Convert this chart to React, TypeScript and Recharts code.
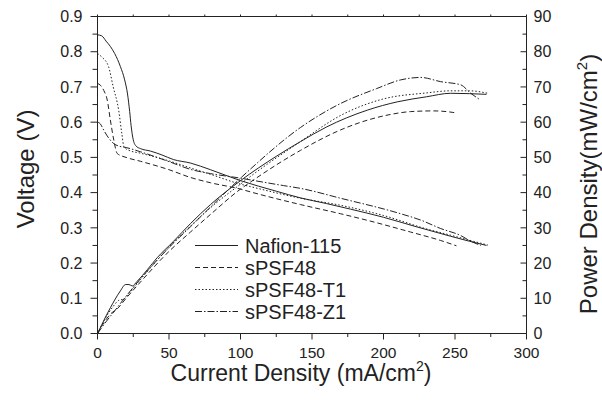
import { ComposedChart, Line, XAxis, YAxis, Legend, Label } from "recharts";

const ink = "#222";
const font = "'Liberation Sans', Arial, sans-serif";

const currentTicks = [0, 25, 50, 75, 100, 125, 150, 175, 200, 225, 250, 275, 300];
const voltageTicks = [0, 0.05, 0.1, 0.15, 0.2, 0.25, 0.3, 0.35, 0.4, 0.45, 0.5, 0.55, 0.6, 0.65, 0.7, 0.75, 0.8, 0.85, 0.9];
const powerTicks = [0, 5, 10, 15, 20, 25, 30, 35, 40, 45, 50, 55, 60, 65, 70, 75, 80, 85, 90];

const seriesNames = ["Nafion-115", "sPSF48", "sPSF48-T1", "sPSF48-Z1"];
const seriesDash = ["", "5 3", "1.5 2", "7 2 1.5 2"];

// [current density, voltage]
const nafionVoltage = [
  [0, 0.848], [3, 0.845], [6, 0.83], [9, 0.815], [12, 0.795], [16, 0.758], [19, 0.72],
  [21, 0.68], [22.5, 0.63], [23.5, 0.59], [25, 0.55], [27, 0.532], [30, 0.525], [37, 0.518],
  [45, 0.507], [53, 0.494], [65, 0.484], [79, 0.465], [100, 0.434], [125, 0.404], [142, 0.385],
  [160, 0.369], [177, 0.353], [200, 0.33], [223, 0.303], [247, 0.276], [260, 0.262], [272, 0.25],
];
const psfVoltage = [
  [0, 0.71], [2, 0.705], [4.4, 0.69], [6.8, 0.663], [9, 0.606], [11.4, 0.549], [13.8, 0.511],
  [20, 0.5], [30, 0.489], [50, 0.465], [65, 0.443], [79, 0.428], [100, 0.41], [107, 0.402],
  [142, 0.366], [170, 0.34], [189, 0.321], [219, 0.288], [240, 0.264], [251, 0.249],
];
const t1Voltage = [
  [0, 0.795], [3, 0.785], [7.7, 0.758], [11, 0.7], [14.8, 0.634], [17, 0.568], [18.5, 0.53],
  [22, 0.52], [30, 0.512], [50, 0.49], [65, 0.47], [79, 0.452], [100, 0.424], [107, 0.417],
  [142, 0.384], [170, 0.364], [200, 0.335], [230, 0.297], [247, 0.279], [260, 0.265], [273, 0.251],
];
const z1Voltage = [
  [0, 0.6], [2, 0.595], [4.4, 0.577], [8, 0.554], [11.4, 0.539], [15, 0.532], [20, 0.528],
  [30, 0.516], [50, 0.488], [65, 0.466], [79, 0.454], [100, 0.441], [107, 0.436], [130, 0.42],
  [142, 0.412], [170, 0.384], [212, 0.34], [226, 0.322], [240, 0.298], [254, 0.278],
  [261, 0.262], [268, 0.25],
];

// [current density, power density]
const nafionPower = [
  [0, 0], [3, 2.5], [6, 5], [9, 7.3], [12, 9.5], [16, 12.1], [19.6, 13.9], [22, 13.9],
  [24.3, 13.5], [27.7, 14.8], [35, 18.2], [41.7, 21.5], [53, 26.1], [65, 31.2], [79, 36.6],
  [100, 43.4], [125, 50.3], [142, 54.5], [160, 58.6], [188.6, 63.4], [210, 65.8], [230, 67.2],
  [247, 68.2], [260, 68.1], [272, 67.9],
];
const psfPower = [
  [0, 0], [4.4, 3], [9, 5.5], [13.8, 7], [20, 10], [30, 14.6], [50, 23.3], [65, 28.8],
  [79, 33.8], [100, 41], [107, 43], [142, 52], [170, 57.8], [189, 60.6], [205, 62.2], [219, 63],
  [235, 63.2], [248, 62.8], [251, 62.6],
];
const t1Power = [
  [0, 0], [3, 2.4], [7.7, 5.8], [11, 7.7], [14.8, 9.4], [18.5, 9.8], [22, 11.4], [30, 15.3],
  [50, 24.5], [65, 30.5], [79, 35.7], [100, 42.4], [107, 44.6], [142, 54.5], [170, 61.9],
  [200, 66.6], [230, 68.3], [247, 68.9], [260, 68.9], [273, 68.2],
];
const z1Power = [
  [0, 0], [4.4, 2.5], [8, 4.4], [11.4, 6.1], [15, 8], [20, 10.6], [30, 15.5], [50, 24.4],
  [65, 30.3], [79, 35.9], [100, 44.1], [107, 46.7], [142, 58.5], [170, 65.3], [195, 69.5],
  [212, 72], [226, 72.7], [240, 71.5], [254, 70.6], [261, 68.2], [267, 66.5],
];

const toPoints = (arr: number[][]) => arr.map(([x, y]) => ({ x, y }));

const voltageSeries = [nafionVoltage, psfVoltage, t1Voltage, z1Voltage];
const powerSeries = [nafionPower, psfPower, t1Power, z1Power];

const textStyle = { fontFamily: font, fill: ink };

const LeftTick = (props: any) => {
  const { x, y, payload } = props;
  const v = payload.value;
  const major = Math.round(v * 100) % 10 === 0;
  const ax = x + 15;
  return (
    <g>
      <line x1={ax} x2={ax - (major ? 7 : 5)} y1={y} y2={y} stroke={ink} />
      {major && (
        <text x={x} y={y} dy="0.355em" textAnchor="end" fontSize={16} style={textStyle}>
          {v.toFixed(1)}
        </text>
      )}
    </g>
  );
};

const RightTick = (props: any) => {
  const { x, y, payload } = props;
  const v = payload.value;
  const major = v % 10 === 0;
  const ax = x - 7;
  return (
    <g>
      <line x1={ax} x2={ax - (major ? 6 : 4)} y1={y} y2={y} stroke={ink} />
      {major && (
        <text x={x} y={y} dy="0.355em" textAnchor="start" fontSize={16} style={textStyle}>
          {v}
        </text>
      )}
    </g>
  );
};

const BottomTick = (props: any) => {
  const { x, y, payload } = props;
  const v = payload.value;
  const major = v % 50 === 0;
  const ay = y - 13;
  return (
    <g>
      <line x1={x} x2={x} y1={ay} y2={ay + (major ? 6 : 3.5)} stroke={ink} />
      {major && (
        <text x={x} y={y} dy="0.71em" textAnchor="middle" fontSize={15.5} style={textStyle}>
          {v}
        </text>
      )}
    </g>
  );
};

const TopTick = (props: any) => {
  const { x, y } = props;
  return <line x1={x} x2={x} y1={y} y2={y - 2} stroke={ink} />;
};

const LeftTitle = (props: any) => {
  const vb = props.viewBox;
  const cx = vb.x + 26;
  const cy = vb.y + vb.height / 2 - 6;
  return (
    <text
      x={cx}
      y={cy}
      transform={`rotate(-90 ${cx} ${cy})`}
      textAnchor="middle"
      dy="0.35em"
      fontSize={24}
      style={textStyle}
    >
      Voltage (V)
    </text>
  );
};

const RightTitle = (props: any) => {
  const vb = props.viewBox;
  const cx = vb.x + 62;
  const cy = vb.y + vb.height / 2 + 9;
  return (
    <text
      x={cx}
      y={cy}
      transform={`rotate(-90 ${cx} ${cy})`}
      textAnchor="middle"
      dy="0.35em"
      fontSize={24}
      style={textStyle}
    >
      Power Density(mW/cm
      <tspan fontSize={15} dy={-10}>2</tspan>
      <tspan dy={10}>)</tspan>
    </text>
  );
};

const BottomTitle = (props: any) => {
  const vb = props.viewBox;
  return (
    <text
      x={vb.x + vb.width / 2 - 11}
      y={vb.y + 47.5}
      textAnchor="middle"
      fontSize={23}
      style={textStyle}
    >
      Current Density (mA/cm
      <tspan fontSize={14} dy={-10}>2</tspan>
      <tspan dy={10}>)</tspan>
    </text>
  );
};

const LegendBox = () => (
  <svg width={180} height={96}>
    {seriesNames.map((name, i) => (
      <g key={name}>
        <line
          x1={5}
          x2={48}
          y1={13.5 + i * 22}
          y2={13.5 + i * 22}
          stroke={ink}
          strokeDasharray={seriesDash[i] || undefined}
        />
        <text x={55} y={21 + i * 22} fontSize={20} style={textStyle}>
          {name}
        </text>
      </g>
    ))}
  </svg>
);

export default function App() {
  return (
    <div style={{ position: "absolute", left: 0, top: 0, background: "#fff" }}>
      <ComposedChart width={602} height={403} margin={{ top: 0, right: 0, bottom: 0, left: 0 }}>
        <XAxis
          xAxisId="bottom"
          dataKey="x"
          type="number"
          domain={[0, 300]}
          ticks={currentTicks}
          interval={0}
          height={69.5}
          tickSize={6}
          tickMargin={7}
          tickLine={false}
          tick={<BottomTick />}
          axisLine={{ stroke: ink }}
          allowDataOverflow
        >
          <Label content={<BottomTitle />} />
        </XAxis>
        <XAxis
          xAxisId="top"
          orientation="top"
          dataKey="x"
          type="number"
          domain={[0, 300]}
          ticks={currentTicks}
          interval={0}
          height={16.5}
          tickSize={0}
          tickMargin={0}
          tickLine={false}
          tick={<TopTick />}
          axisLine={{ stroke: ink }}
          allowDataOverflow
        />
        <YAxis
          yAxisId="v"
          type="number"
          domain={[0, 0.9]}
          ticks={voltageTicks}
          interval={0}
          width={97.5}
          tickSize={6}
          tickMargin={9}
          tickLine={false}
          tick={<LeftTick />}
          axisLine={{ stroke: ink }}
          allowDataOverflow
        >
          <Label content={<LeftTitle />} />
        </YAxis>
        <YAxis
          yAxisId="p"
          orientation="right"
          type="number"
          domain={[0, 90]}
          ticks={powerTicks}
          interval={0}
          width={75.5}
          tickSize={0}
          tickMargin={7}
          tickLine={false}
          tick={<RightTick />}
          axisLine={{ stroke: ink }}
          allowDataOverflow
        >
          <Label content={<RightTitle />} />
        </YAxis>
        <Legend
          layout="horizontal"
          verticalAlign="middle"
          align="center"
          content={<LegendBox />}
          wrapperStyle={{ position: "absolute", left: 190, top: 231.5, width: 180, height: 96 }}
        />
        {voltageSeries.map((s, i) => (
          <Line
            key={"v" + i}
            xAxisId="bottom"
            yAxisId="v"
            data={toPoints(s)}
            dataKey="y"
            name={seriesNames[i]}
            type="monotone"
            stroke={ink}
            strokeWidth={1}
            strokeDasharray={seriesDash[i] || undefined}
            dot={false}
            activeDot={false}
            isAnimationActive={false}
            legendType="none"
          />
        ))}
        {powerSeries.map((s, i) => (
          <Line
            key={"p" + i}
            xAxisId="bottom"
            yAxisId="p"
            data={toPoints(s)}
            dataKey="y"
            name={seriesNames[i] + " power"}
            type="monotone"
            stroke={ink}
            strokeWidth={1}
            strokeDasharray={seriesDash[i] || undefined}
            dot={false}
            activeDot={false}
            isAnimationActive={false}
            legendType="none"
          />
        ))}
      </ComposedChart>
    </div>
  );
}
